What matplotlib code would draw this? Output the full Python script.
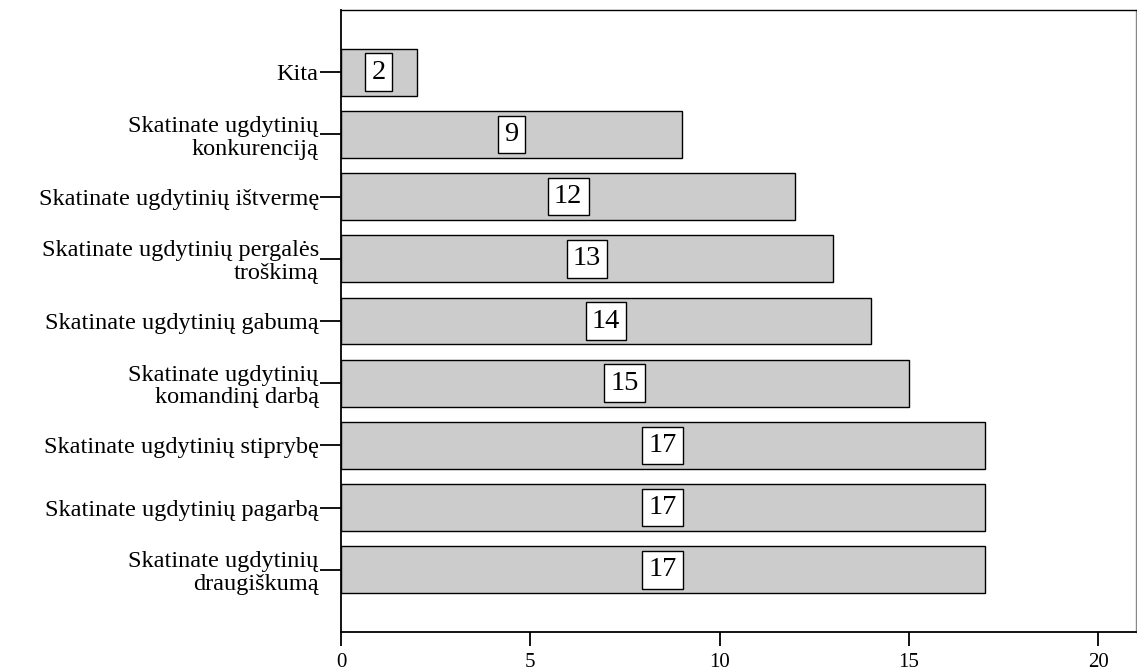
import matplotlib
matplotlib.use("Agg")
import matplotlib.pyplot as plt

plt.rcParams['font.family'] = ['Liberation Serif', 'DejaVu Serif']

categories = [
    "Skatinate ugdytinių\ndraugiškumą",
    "Skatinate ugdytinių pagarbą",
    "Skatinate ugdytinių stiprybę",
    "Skatinate ugdytinių\nkomandinį darbą",
    "Skatinate ugdytinių gabumą",
    "Skatinate ugdytinių pergalės\ntroškimą",
    "Skatinate ugdytinių ištvermę",
    "Skatinate ugdytinių\nkonkurenciją",
    "Kita",
]
values = [17, 17, 17, 15, 14, 13, 12, 9, 2]
xticks = [0, 5, 10, 15, 20]

fig = plt.figure(figsize=(11.37, 6.71), dpi=100)
ax = fig.add_axes([0.2999, 0.0581, 0.6992, 0.9270])

ypos = list(range(len(categories)))
ax.barh(ypos, values, height=0.75, color="#cccccc", edgecolor="black", linewidth=1.0)

for y, v in zip(ypos, values):
    ax.text(v / 2, y, str(v), ha="center", va="center", fontsize=20.5,
            bbox=dict(boxstyle="square,pad=0.22", facecolor="white",
                      edgecolor="black", linewidth=1.0))

ax.set_xlim(0, 21)
ax.set_ylim(-1, len(categories))
ax.set_yticks(ypos)
ax.set_yticklabels(categories, fontsize=17.5, linespacing=1.1)
ax.set_xticks(xticks)
ax.set_xticklabels([str(t) for t in xticks], fontsize=15)

ax.tick_params(axis="y", length=15, width=1.3, pad=1)
ax.tick_params(axis="x", length=10, width=1.3, pad=5)

for side in ["left", "bottom"]:
    ax.spines[side].set_linewidth(1.3)
ax.spines["top"].set_linewidth(1.0)
ax.spines["right"].set_linewidth(1.0)
ax.spines["right"].set_color("#888888")

fig.savefig("out.png", dpi=100)
